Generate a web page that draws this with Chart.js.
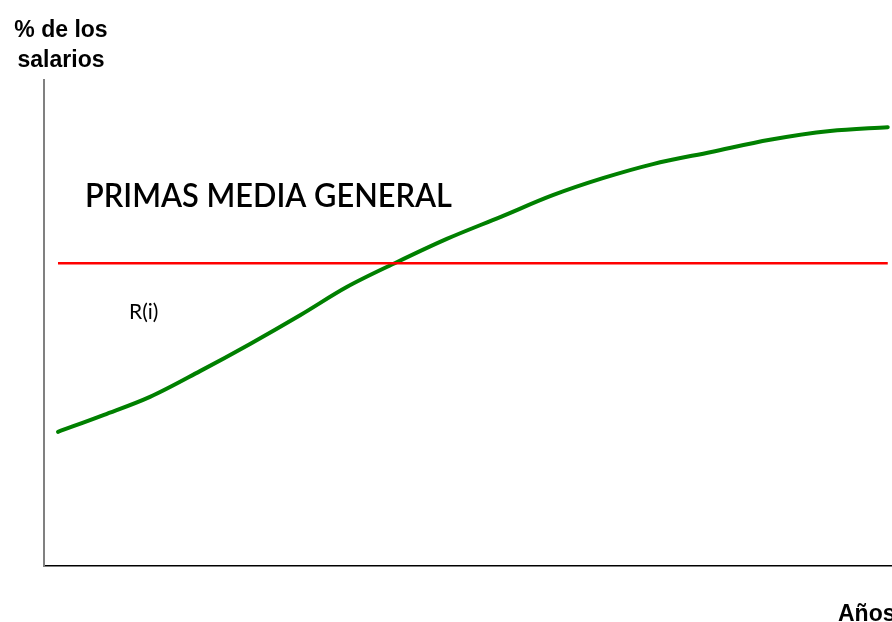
<!DOCTYPE html>
<html><head><meta charset="utf-8">
<script src="https://cdn.jsdelivr.net/npm/chart.js@4/dist/chart.umd.min.js"></script>
<style>html,body{margin:0;padding:0;background:#fff;}#wrap{width:892px;height:622px;position:relative;}</style>
</head><body><div id="wrap"><canvas id="c" width="892" height="622"></canvas></div>
<script>
// Años (relative units) and % of salaries (relative units)
const curveX = [1.65,7.08,12.5,18.4,24.3,30.2,35.7,41.6,47.5,53.8,60.0,65.9,71.8,78.7,85.6,92.7,99.5];
const curveY = [27.6,31.1,34.8,40.1,45.7,51.6,57.4,62.5,67.3,71.8,76.3,79.8,82.7,85.2,87.7,89.5,90.3];
const primaX = [1.65, 99.5];
const primaY = [62.3, 62.3];
const labels = {yTitle:["% de los","salarios"], xTitle:"Años", primas:"PRIMAS MEDIA GENERAL", ri:"R(i)"};

const textPlugin = {
  id:'texts',
  afterDraw(chart){
    const ctx = chart.ctx;
    ctx.save();
    ctx.fillStyle = '#000';
    ctx.textBaseline = 'alphabetic';
    ctx.textAlign = 'center';
    ctx.font = 'bold 23px "Liberation Sans", Arial, sans-serif';
    ctx.fillText(labels.yTitle[0], 61, 37);
    ctx.fillText(labels.yTitle[1], 61, 67);
    ctx.textAlign = 'left';
    ctx.fillText(labels.xTitle, 838, 621);
    // big label fitted to width
    ctx.font = '600 32px Lato, "Open Sans", sans-serif';
    const w = ctx.measureText(labels.primas).width;
    ctx.save();
    ctx.translate(85, 207);
    ctx.scale(367 / w, 1);
    ctx.fillText(labels.primas, 0, 0);
    ctx.restore();
    ctx.font = '21px Lato, "Open Sans", sans-serif';
    ctx.fillText(labels.ri, 129, 319);
    ctx.restore();
  }
};

new Chart(document.getElementById('c'), {
  type:'scatter',
  data:{datasets:[
    {data: primaX.map((x,i)=>({x, y:primaY[i]})), showLine:true, borderColor:'#ff0000', borderWidth:2.5, pointRadius:0, tension:0},
    {data: curveX.map((x,i)=>({x, y:curveY[i]})), showLine:true, borderColor:'#008000', borderWidth:4, pointRadius:0, cubicInterpolationMode:'monotone', borderCapStyle:'round', borderJoinStyle:'round'}
  ]},
  options:{
    responsive:false, animation:false, devicePixelRatio:1,
    layout:{padding:{left:44, right:0, top:80, bottom:56}},
    plugins:{legend:{display:false}, tooltip:{enabled:false}},
    scales:{
      x:{type:'linear', min:0, max:100, grid:{display:false, drawTicks:false}, ticks:{display:false},
         border:{display:true, color:'#000', width:1.5}, afterFit(s){s.height=0;}},
      y:{type:'linear', min:0, max:100, grid:{display:false, drawTicks:false}, ticks:{display:false},
         border:{display:true, color:'#808080', width:2}, afterFit(s){s.width=0;}}
    }
  },
  plugins:[textPlugin]
});
</script></body></html>
